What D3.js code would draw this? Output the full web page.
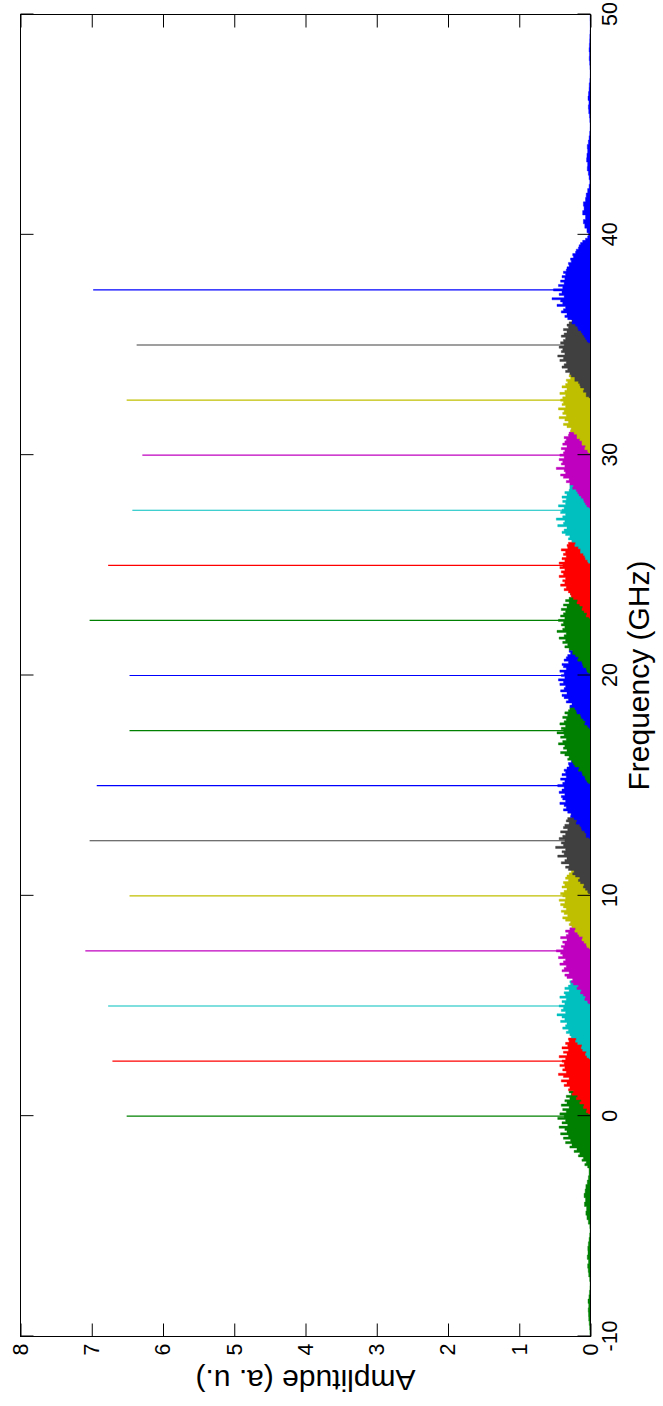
<!DOCTYPE html>
<html>
<head>
<meta charset="utf-8">
<script src="https://cdn.jsdelivr.net/npm/d3@7"></script>
<style>
  html, body { margin: 0; padding: 0; background: #fff; }
  svg { display: block; }
  text { font-family: "Liberation Sans", Arial, Helvetica, sans-serif; fill: #000; }
</style>
</head>
<body>
<svg id="chart" width="663" height="1406"></svg>
<script>
// ---------------- data ----------------
const freqTicks = [-10, 0, 10, 20, 30, 40, 50];          // GHz
const ampTicks  = [0, 1, 2, 3, 4, 5, 6, 7, 8];           // a. u.

// optical carriers (GHz) and the height of each carrier line
const carriers       = [0, 2.5, 5, 7.5, 10, 12.5, 15, 17.5, 20, 22.5, 25, 27.5, 30, 32.5, 35, 37.5];
const peakAmplitudes = [6.51, 6.71, 6.77, 7.09, 6.47, 7.03, 6.93, 6.47, 6.47, 7.03, 6.77, 6.43, 6.29, 6.51, 6.37, 6.98];

// modulation pedestal around each carrier, sampled every 0.1 GHz from -2.4 to +2.4 GHz
const pedestalOffsets = d3.range(49).map(i => Math.round((-2.4 + i * 0.1) * 10) / 10);
const pedestals = [
  [0.02,0.04,0.08,0.06,0.12,0.10,0.17,0.15,0.23,0.19,0.29,0.26, 0.35,0.28,0.38,0.31,0.42,0.33,0.36,0.44,0.32,0.40,0.35,0.46, 0.37, 0.43,0.34,0.39,0.30,0.41,0.33,0.36,0.29,0.34, 0.27,0.30,0.22,0.25,0.19,0.21,0.15,0.17,0.12,0.13,0.09,0.08,0.05,0.04,0.02],
  [0.03,0.06,0.05,0.10,0.09,0.15,0.13,0.20,0.18,0.26,0.24,0.31, 0.29,0.37,0.33,0.41,0.30,0.38,0.45,0.34,0.39,0.36,0.43,0.37, 0.40, 0.35,0.44,0.33,0.38,0.31,0.40,0.32,0.35,0.30, 0.31,0.25,0.28,0.21,0.23,0.17,0.19,0.14,0.15,0.10,0.11,0.07,0.06,0.03,0.02],
  [0.02,0.05,0.07,0.06,0.11,0.13,0.12,0.18,0.21,0.20,0.27,0.29, 0.34,0.31,0.39,0.35,0.33,0.42,0.36,0.40,0.47,0.35,0.41,0.38, 0.44, 0.36,0.40,0.34,0.43,0.35,0.37,0.30,0.36,0.31, 0.28,0.29,0.24,0.25,0.20,0.22,0.16,0.18,0.13,0.12,0.09,0.10,0.05,0.05,0.02],
  [0.03,0.04,0.08,0.07,0.10,0.14,0.13,0.19,0.17,0.24,0.27,0.25, 0.33,0.36,0.30,0.40,0.37,0.34,0.43,0.38,0.35,0.45,0.39,0.42, 0.48, 0.38,0.41,0.36,0.39,0.33,0.42,0.34,0.31,0.35, 0.29,0.26,0.28,0.22,0.24,0.18,0.20,0.15,0.14,0.11,0.10,0.07,0.07,0.04,0.02],
  [0.02,0.05,0.06,0.09,0.12,0.11,0.16,0.18,0.22,0.21,0.26,0.30, 0.28,0.35,0.39,0.32,0.37,0.41,0.34,0.38,0.42,0.36,0.44,0.35, 0.39, 0.42,0.37,0.33,0.40,0.36,0.38,0.31,0.35,0.33, 0.30,0.27,0.27,0.23,0.21,0.21,0.16,0.17,0.13,0.13,0.09,0.09,0.05,0.05,0.02],
  [0.03,0.04,0.07,0.10,0.09,0.14,0.17,0.15,0.21,0.25,0.23,0.31, 0.35,0.30,0.41,0.36,0.33,0.46,0.37,0.40,0.35,0.49,0.38,0.41, 0.36, 0.44,0.39,0.35,0.42,0.32,0.38,0.36,0.30,0.34, 0.32,0.26,0.27,0.24,0.20,0.21,0.18,0.15,0.14,0.11,0.11,0.07,0.06,0.04,0.03],
  [0.02,0.06,0.06,0.08,0.12,0.13,0.15,0.20,0.19,0.23,0.28,0.27, 0.32,0.38,0.34,0.37,0.43,0.35,0.39,0.41,0.36,0.44,0.40,0.37, 0.46, 0.39,0.36,0.42,0.34,0.40,0.35,0.37,0.33,0.30, 0.31,0.27,0.25,0.25,0.21,0.19,0.19,0.15,0.13,0.13,0.09,0.08,0.06,0.03,0.02],
  [0.03,0.05,0.07,0.08,0.11,0.12,0.17,0.16,0.22,0.24,0.26,0.32, 0.30,0.36,0.42,0.33,0.38,0.36,0.45,0.39,0.34,0.42,0.37,0.47, 0.38, 0.41,0.35,0.43,0.37,0.34,0.39,0.32,0.36,0.31, 0.29,0.28,0.24,0.23,0.22,0.18,0.18,0.14,0.14,0.10,0.10,0.07,0.05,0.04,0.02],
  [0.02,0.04,0.08,0.07,0.10,0.13,0.14,0.19,0.20,0.22,0.29,0.26, 0.34,0.31,0.37,0.40,0.33,0.42,0.37,0.35,0.43,0.38,0.45,0.36, 0.41, 0.37,0.43,0.34,0.38,0.40,0.31,0.37,0.34,0.32, 0.28,0.30,0.23,0.26,0.20,0.20,0.17,0.16,0.12,0.12,0.10,0.07,0.06,0.04,0.02],
  [0.03,0.05,0.06,0.10,0.11,0.12,0.18,0.17,0.21,0.25,0.25,0.30, 0.36,0.32,0.39,0.35,0.44,0.37,0.34,0.47,0.39,0.36,0.41,0.38, 0.45, 0.36,0.42,0.38,0.35,0.41,0.33,0.38,0.30,0.35, 0.30,0.26,0.28,0.22,0.23,0.19,0.17,0.17,0.12,0.13,0.08,0.09,0.05,0.04,0.02],
  [0.02,0.06,0.05,0.09,0.12,0.11,0.15,0.19,0.18,0.24,0.27,0.28, 0.31,0.37,0.34,0.42,0.36,0.39,0.35,0.44,0.38,0.41,0.36,0.43, 0.39, 0.44,0.36,0.40,0.34,0.38,0.35,0.41,0.32,0.33, 0.31,0.26,0.26,0.24,0.20,0.22,0.16,0.18,0.13,0.11,0.11,0.07,0.07,0.03,0.02],
  [0.03,0.04,0.07,0.08,0.10,0.14,0.14,0.17,0.22,0.21,0.26,0.31, 0.29,0.35,0.40,0.37,0.33,0.46,0.38,0.36,0.48,0.39,0.35,0.42, 0.40, 0.37,0.45,0.35,0.39,0.34,0.40,0.33,0.36,0.30, 0.29,0.29,0.23,0.25,0.21,0.19,0.18,0.15,0.14,0.11,0.10,0.08,0.05,0.05,0.02],
  [0.02,0.05,0.07,0.09,0.10,0.13,0.16,0.18,0.20,0.25,0.24,0.29, 0.34,0.30,0.38,0.42,0.35,0.37,0.48,0.36,0.41,0.39,0.44,0.37, 0.43, 0.38,0.36,0.41,0.33,0.39,0.36,0.34,0.37,0.31, 0.30,0.27,0.26,0.22,0.23,0.18,0.19,0.15,0.13,0.12,0.09,0.09,0.06,0.04,0.02],
  [0.03,0.04,0.08,0.07,0.12,0.12,0.15,0.19,0.19,0.23,0.28,0.27, 0.33,0.38,0.31,0.36,0.44,0.34,0.39,0.37,0.45,0.35,0.40,0.38, 0.42, 0.39,0.35,0.43,0.36,0.33,0.40,0.35,0.32,0.34, 0.28,0.30,0.24,0.24,0.21,0.20,0.16,0.17,0.13,0.12,0.10,0.07,0.06,0.04,0.02],
  [0.02,0.06,0.06,0.10,0.09,0.14,0.15,0.17,0.22,0.22,0.27,0.29, 0.35,0.32,0.40,0.37,0.34,0.43,0.38,0.46,0.36,0.41,0.39,0.44, 0.37, 0.42,0.38,0.35,0.41,0.37,0.33,0.38,0.31,0.33, 0.30,0.26,0.27,0.23,0.21,0.20,0.18,0.14,0.14,0.10,0.10,0.07,0.05,0.05,0.02],
  [0.03,0.05,0.07,0.09,0.11,0.13,0.17,0.18,0.21,0.26,0.25,0.32, 0.36,0.33,0.41,0.38,0.35,0.47,0.39,0.42,0.54,0.37,0.44,0.40, 0.52, 0.39,0.45,0.37,0.42,0.36,0.40,0.35,0.38,0.34, 0.33,0.30,0.31,0.27,0.28,0.24,0.25,0.21,0.20,0.17,0.16,0.14,0.11,0.07,0.04]
];

// side lobes below the lowest carrier (from -10 GHz, 0.2 GHz steps)
const lowTailStart = -10, lowTailStep = 0.2;
const lowTail = [0.005,0.008,0.012,0.018,0.025,0.028,0.032,0.025,0.035,0.022,0.015,0.008,0.006,0.012,0.025,0.032,0.040,0.028,0.045,0.035,0.038,0.030,0.020,0.012,0.006,0.010,0.030,0.050,0.065,0.055,0.085,0.070,0.090,0.075,0.065,0.045,0.030,0.020];
// side lobes above the highest carrier (from 40 GHz, 0.2 GHz steps)
const highTailStart = 40, highTailStep = 0.2;
const highTail = [0.030,0.050,0.080,0.100,0.070,0.110,0.090,0.100,0.070,0.060,0.040,0.020,0.010,0.020,0.030,0.045,0.040,0.055,0.050,0.040,0.045,0.030,0.020,0.012,0.006,0.005,0.010,0.015,0.025,0.030,0.022,0.035,0.028,0.020,0.018,0.010,0.005,0.004,0.008,0.012,0.018,0.015,0.020,0.016,0.012,0.010,0.006,0.003,0.004,0.006,0.005];

// ---------------- styling ----------------
const matlab = { b: "#0000ff", g: "#008000", r: "#ff0000", c: "#00bfbf", m: "#bf00bf", y: "#bfbf00", k: "#404040" };
const lineColors = ["g","r","c","m","y","k","b","g","b","g","r","c","m","y","k","b"].map(k => matlab[k]);

// The figure is laid out landscape (1406 x 663) and turned a quarter turn counter-clockwise.
const W = 1406;
const plot = { left: 69.5, right: 1391.5, top: 20.5, bottom: 590.5 };
const tickLen = 13;

const x = d3.scaleLinear().domain([-10, 50]).range([plot.left, plot.right]);
const y = d3.scaleLinear().domain([0, 8]).range([plot.bottom, plot.top]);

const svg = d3.select("#chart");
const g = svg.append("g").attr("transform", `translate(0,${W}) rotate(-90)`);

g.append("clipPath").attr("id", "plotClip")
  .append("rect")
  .attr("x", plot.left).attr("y", plot.top)
  .attr("width", plot.right - plot.left).attr("height", plot.bottom - plot.top);

const layer = g.append("g").attr("clip-path", "url(#plotClip)");

const area = d3.area()
  .x(d => x(d[0]))
  .y0(y(0))
  .y1(d => y(d[1]))
  .curve(d3.curveStep);

carriers.forEach((fc, i) => {
  const col = lineColors[i];
  let pts = pedestalOffsets.map((df, j) => [fc + df, pedestals[i][j]]);
  if (i === 0) {
    const tail = lowTail.map((v, j) => [lowTailStart + j * lowTailStep, v]);
    pts = tail.concat(pts);
  }
  if (i === carriers.length - 1) {
    const tail = highTail.map((v, j) => [highTailStart + j * highTailStep, v]);
    pts = pts.concat(tail);
  }
  layer.append("path")
    .attr("d", area(pts))
    .attr("fill", col)
    .attr("stroke", col)
    .attr("stroke-width", 0.4);

  layer.append("line")
    .attr("x1", x(fc)).attr("x2", x(fc))
    .attr("y1", y(0)).attr("y2", y(peakAmplitudes[i]))
    .attr("stroke", col)
    .attr("stroke-width", 1.2);
});

// axes: ticks point inward on all four sides; labels use a plain hyphen for negatives
const tickFont = 21.5;
const plainInt = d => String(d);
function styleAxis(sel) {
  sel.select(".domain").remove();
  sel.selectAll(".tick line").attr("stroke", "#000").attr("stroke-width", 1);
  sel.selectAll(".tick text")
    .attr("font-size", tickFont)
    .attr("font-family", '"Liberation Sans", Arial, Helvetica, sans-serif')
    .attr("fill", "#000");
}

g.append("g").attr("transform", `translate(0,${plot.bottom})`)
  .call(d3.axisBottom(x).tickValues(freqTicks).tickFormat(plainInt)
    .tickSizeInner(-tickLen).tickSizeOuter(0).tickPadding(11.5))
  .call(styleAxis);

g.append("g").attr("transform", `translate(0,${plot.top})`)
  .call(d3.axisTop(x).tickValues(freqTicks).tickFormat("")
    .tickSizeInner(-tickLen).tickSizeOuter(0))
  .call(styleAxis);

g.append("g").attr("transform", `translate(${plot.left},0)`)
  .call(d3.axisLeft(y).tickValues(ampTicks).tickFormat(plainInt)
    .tickSizeInner(-tickLen).tickSizeOuter(0).tickPadding(7))
  .call(styleAxis);

g.append("g").attr("transform", `translate(${plot.right},0)`)
  .call(d3.axisRight(y).tickValues(ampTicks).tickFormat("")
    .tickSizeInner(-tickLen).tickSizeOuter(0))
  .call(styleAxis);

// plot box
g.append("rect")
  .attr("x", plot.left).attr("y", plot.top)
  .attr("width", plot.right - plot.left).attr("height", plot.bottom - plot.top)
  .attr("fill", "none").attr("stroke", "#000").attr("stroke-width", 1);

// axis titles
g.append("text")
  .attr("x", (plot.left + plot.right) / 2).attr("y", 649)
  .attr("text-anchor", "middle").attr("font-size", 30)
  .text("Frequency (GHz)");

g.append("text")
  .attr("transform", `translate(36,${(plot.top + plot.bottom) / 2}) rotate(-90)`)
  .attr("text-anchor", "middle").attr("font-size", 30)
  .text("Amplitude (a. u.)");
</script>
</body>
</html>
